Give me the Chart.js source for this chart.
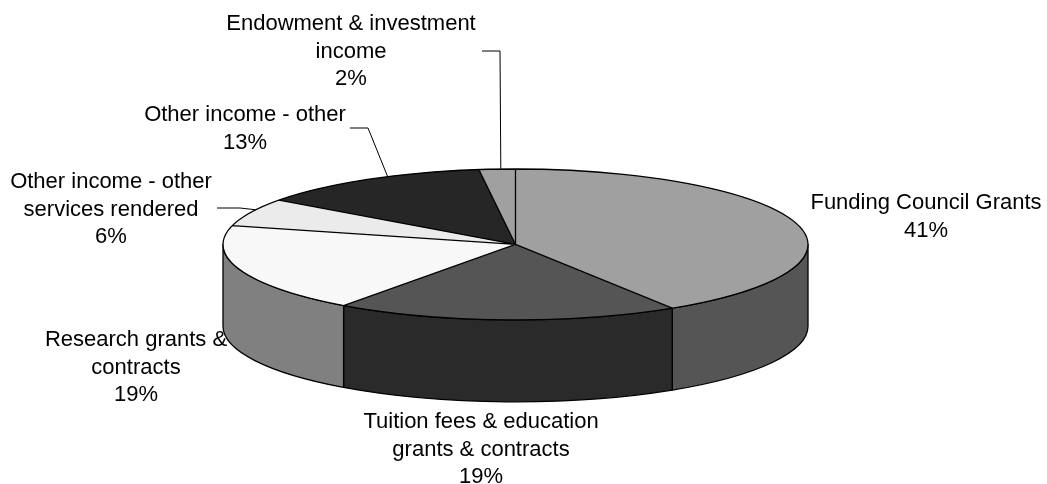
<!DOCTYPE html>
<html>
<head>
<meta charset="utf-8">
<title>Income by source</title>
<script src="https://cdn.jsdelivr.net/npm/chart.js@4.4.1/dist/chart.umd.min.js"></script>
<style>
  html, body { margin: 0; padding: 0; background: #fff; }
  canvas { display: block; }
</style>
</head>
<body>
<canvas id="incomeChart" width="1047" height="484"></canvas>
<script>
const categories = [
  'Funding Council Grants',
  'Tuition fees & education grants & contracts',
  'Research grants & contracts',
  'Other income - other services rendered',
  'Other income - other',
  'Endowment & investment income'
];
// how each category name wraps beside the pie
const labelLines = [
  ['Funding Council Grants'],
  ['Tuition fees & education', 'grants & contracts'],
  ['Research grants &', 'contracts'],
  ['Other income - other', 'services rendered'],
  ['Other income - other'],
  ['Endowment & investment', 'income']
];
const shares = [41, 19, 19, 6, 13, 2];

const topColors = ['#a0a0a0', '#555555', '#f8f8f8', '#ebebeb', '#262626', '#a0a0a0'];
const sideColors = ['#555555', '#2a2a2a', '#808080', '#767676', '#131313', '#505050'];

// centre of the first text line of each label, and leader line elbows
const labelAt = [[926, 203], [481, 422], [136, 340], [111, 182], [245, 115], [351, 24]];
const leaderFrom = [null, null, null, [[217, 208], [240, 208]], [[350, 128], [368, 128]], [[482, 51], [500, 51]]];
const LEADER_POS = 0.6; // where along its slice a leader touches the rim

const TILT = 0.258;   // ry / rx of the top face
const DEPTH = 0.28;   // wall height / rx
const LINE_H = 27.5;

function geometry(chart) {
  const { left, right, top } = chart.chartArea;
  const rx = (right - left) / 2;
  const ry = rx * TILT;
  return { cx: (left + right) / 2, cy: top + ry, rx, ry, depth: rx * DEPTH };
}

function onEllipse(g, a, dy) {
  return [g.cx + g.rx * Math.cos(a), g.cy + (dy || 0) + g.ry * Math.sin(a)];
}

const pie3d = {
  id: 'pie3d',
  beforeDatasetsDraw(chart) {
    const ctx = chart.ctx;
    const g = geometry(chart);
    const arcs = chart.getDatasetMeta(0).data;

    // front walls, only the part facing the viewer (0..PI)
    ctx.save();
    ctx.lineWidth = 1.3;
    ctx.strokeStyle = '#000';
    ctx.lineJoin = 'round';
    arcs.forEach((arc, i) => {
      const a0 = Math.max(arc.startAngle, 0);
      const a1 = Math.min(arc.endAngle, Math.PI);
      if (a1 <= a0) return;
      const [bx, by] = onEllipse(g, a1, g.depth);
      ctx.beginPath();
      ctx.ellipse(g.cx, g.cy, g.rx, g.ry, 0, a0, a1);
      ctx.lineTo(bx, by);
      ctx.ellipse(g.cx, g.cy + g.depth, g.rx, g.ry, 0, a1, a0, true);
      ctx.closePath();
      ctx.fillStyle = sideColors[i];
      ctx.fill();
      ctx.stroke();
    });
    ctx.restore();

    // squash the round pie onto the top face
    const a = arcs[0];
    ctx.save();
    ctx.translate(g.cx, g.cy);
    ctx.scale(g.rx / a.outerRadius, g.ry / a.outerRadius);
    ctx.translate(-a.x, -a.y);
  },
  afterDatasetsDraw(chart) {
    const ctx = chart.ctx;
    ctx.restore();
    const g = geometry(chart);
    const arcs = chart.getDatasetMeta(0).data;

    ctx.save();
    ctx.lineWidth = 1.3;
    ctx.strokeStyle = '#000';
    ctx.beginPath();
    ctx.ellipse(g.cx, g.cy, g.rx, g.ry, 0, 0, Math.PI * 2);
    arcs.forEach(arc => {
      const [x, y] = onEllipse(g, arc.startAngle);
      ctx.moveTo(g.cx, g.cy);
      ctx.lineTo(x, y);
    });
    ctx.stroke();
    ctx.restore();
  },
  afterDraw(chart) {
    const ctx = chart.ctx;
    const g = geometry(chart);
    const arcs = chart.getDatasetMeta(0).data;

    ctx.save();
    ctx.fillStyle = '#000';
    ctx.font = '22px "Liberation Sans", Arial, sans-serif';
    ctx.textAlign = 'center';
    ctx.textBaseline = 'middle';
    labelLines.forEach((lines, i) => {
      const [x, y] = labelAt[i];
      lines.concat([shares[i] + '%']).forEach((t, k) => ctx.fillText(t, x, y + k * LINE_H));
    });

    ctx.strokeStyle = '#000';
    ctx.lineWidth = 1;
    leaderFrom.forEach((pts, i) => {
      if (!pts) return;
      const arc = arcs[i];
      const a = arc.startAngle + (arc.endAngle - arc.startAngle) * LEADER_POS;
      const [ex, ey] = onEllipse(g, a);
      ctx.beginPath();
      ctx.moveTo(pts[0][0], pts[0][1]);
      for (let k = 1; k < pts.length; k++) ctx.lineTo(pts[k][0], pts[k][1]);
      ctx.lineTo(ex, ey);
      ctx.stroke();
    });
    ctx.restore();
  }
};

new Chart(document.getElementById('incomeChart'), {
  type: 'pie',
  data: {
    labels: categories,
    datasets: [{
      data: shares,
      backgroundColor: topColors,
      borderWidth: 0
    }]
  },
  options: {
    responsive: false,
    animation: false,
    events: [],
    layout: { padding: { left: 223, right: 239, top: 169, bottom: 82 } },
    plugins: {
      legend: { display: false },
      tooltip: { enabled: false }
    }
  },
  plugins: [pie3d]
});
</script>
</body>
</html>
